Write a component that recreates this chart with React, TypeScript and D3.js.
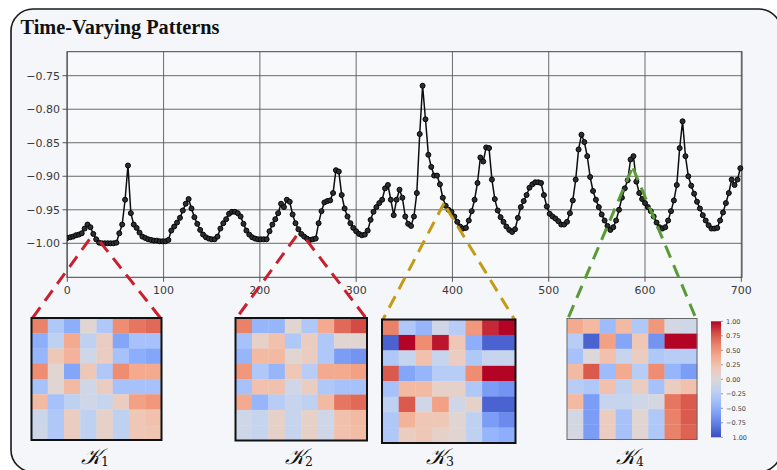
import React from "react";
import * as d3 from "d3";

// ---------------- data ----------------
const timeStep = 3; // samples read every 3 time steps, t = 0..699
const seriesValues = [
  -0.992, -0.991, -0.990, -0.988, -0.987, -0.985, -0.978, -0.972, -0.976, -0.986,
  -0.994, -0.999, -1.000, -1.000, -1.000, -1.000, -1.000, -0.999, -0.985, -0.972,
  -0.935, -0.884, -0.955, -0.972, -0.977, -0.984, -0.990, -0.992, -0.994, -0.995,
  -0.996, -0.996, -0.997, -0.997, -0.997, -0.995, -0.981, -0.975, -0.969, -0.962,
  -0.951, -0.941, -0.934, -0.948, -0.961, -0.971, -0.980, -0.987, -0.991, -0.993,
  -0.994, -0.994, -0.990, -0.978, -0.970, -0.964, -0.956, -0.953, -0.953, -0.955,
  -0.960, -0.971, -0.981, -0.987, -0.991, -0.993, -0.994, -0.994, -0.994, -0.994,
  -0.982, -0.972, -0.964, -0.955, -0.941, -0.946, -0.935, -0.938, -0.957, -0.970,
  -0.979, -0.986, -0.990, -0.993, -0.995, -0.994, -0.993, -0.970, -0.952, -0.939,
  -0.937, -0.936, -0.925, -0.891, -0.893, -0.928, -0.948, -0.960, -0.970, -0.977,
  -0.982, -0.986, -0.988, -0.987, -0.981, -0.965, -0.953, -0.946, -0.940, -0.935,
  -0.918, -0.913, -0.935, -0.958, -0.935, -0.920, -0.932, -0.960, -0.971, -0.974,
  -0.960, -0.925, -0.837, -0.765, -0.815, -0.868, -0.886, -0.899, -0.899, -0.912,
  -0.932, -0.944, -0.950, -0.953, -0.960, -0.968, -0.975, -0.978, -0.977, -0.966,
  -0.952, -0.935, -0.910, -0.872, -0.878, -0.857, -0.858, -0.905, -0.934, -0.951,
  -0.961, -0.968, -0.975, -0.980, -0.983, -0.979, -0.962, -0.946, -0.937, -0.928,
  -0.917, -0.912, -0.909, -0.909, -0.910, -0.928, -0.945, -0.956, -0.960, -0.963,
  -0.967, -0.972, -0.972, -0.968, -0.955, -0.936, -0.905, -0.860, -0.838, -0.849,
  -0.870, -0.901, -0.922, -0.935, -0.946, -0.957, -0.966, -0.974, -0.980, -0.976,
  -0.966, -0.950, -0.932, -0.918, -0.906, -0.875, -0.870, -0.908, -0.925, -0.934,
  -0.940, -0.946, -0.952, -0.960, -0.969, -0.976, -0.978, -0.976, -0.966, -0.952,
  -0.936, -0.913, -0.858, -0.818, -0.870, -0.900, -0.914, -0.926, -0.938, -0.948,
  -0.958, -0.966, -0.973, -0.978, -0.978, -0.977, -0.966, -0.954, -0.940, -0.925,
  -0.905, -0.913, -0.905, -0.888,
];

const xTicks = [0, 100, 200, 300, 400, 500, 600, 700];
const yTicks = [-0.75, -0.8, -0.85, -0.9, -0.95, -1.0];
const yTickLabels = ["\u22120.75", "\u22120.80", "\u22120.85", "\u22120.90", "\u22120.95", "\u22121.00"];

const heatK1 = [
  [0.6, -0.3, -0.5, 0.05, -0.3, 0.55, 0.65, 0.7],
  [-0.5, -0.2, 0.4, -0.2, 0.15, -0.55, -0.35, -0.35],
  [-0.45, 0.2, 0.35, -0.1, 0.15, -0.35, -0.5, -0.55],
  [0.55, 0.05, -0.55, 0.2, -0.3, 0.55, 0.4, 0.4],
  [-0.35, 0.05, 0.3, -0.1, 0.15, -0.35, -0.35, -0.35],
  [0.3, -0.35, -0.2, -0.1, -0.15, 0.15, 0.45, 0.5],
  [-0.12, -0.3, 0.15, -0.2, 0.1, -0.2, 0.2, 0.25],
  [-0.1, -0.3, 0.15, -0.2, 0.1, -0.2, 0.2, 0.22],
];
const heatK2 = [
  [0.6, -0.45, -0.45, 0.05, -0.3, 0.4, 0.7, 0.8],
  [-0.35, 0.1, 0.25, -0.3, 0.15, -0.3, 0.05, 0.05],
  [-0.45, 0.3, 0.3, 0.05, 0.15, -0.3, -0.6, -0.65],
  [0.5, -0.3, -0.45, 0.2, -0.25, 0.4, 0.4, 0.45],
  [-0.35, 0.25, 0.25, -0.1, 0.15, -0.3, -0.35, -0.35],
  [0.4, -0.45, -0.25, -0.15, -0.2, 0.3, 0.65, 0.7],
  [-0.1, -0.15, 0.1, -0.15, 0.1, -0.1, 0.25, 0.3],
  [-0.1, -0.15, 0.1, -0.15, 0.1, -0.1, 0.25, 0.28],
];
const heatK3 = [
  [0.6, -0.3, -0.45, -0.1, -0.25, 0.5, 0.9, 1.0],
  [-0.9, 1.0, 0.55, 0.95, 0.2, -0.5, -0.9, -0.9],
  [-0.3, -0.15, 0.25, -0.15, 0.15, -0.3, -0.15, -0.15],
  [0.75, -0.55, -0.45, -0.25, -0.25, 0.55, 1.0, 1.0],
  [-0.35, 0.3, 0.3, 0.1, 0.1, -0.3, -0.6, -0.65],
  [-0.2, 0.75, -0.1, 0.45, -0.1, 0.1, -0.9, -0.9],
  [-0.3, 0.35, 0.2, 0.2, 0.05, -0.2, -0.6, -0.7],
  [-0.3, 0.15, 0.2, 0.1, 0.05, -0.2, -0.45, -0.5],
];
const heatK4 = [
  [0.4, 0.3, -0.4, 0.3, -0.3, 0.5, -0.05, -0.1],
  [-0.25, -0.9, 0.45, -0.55, 0.2, -0.65, 1.0, 1.0],
  [-0.35, 0.0, 0.25, -0.15, 0.15, -0.3, -0.25, -0.25],
  [0.3, 0.75, -0.4, 0.4, -0.25, 0.55, -0.45, -0.6],
  [-0.25, -0.3, 0.25, -0.2, 0.15, -0.35, 0.15, 0.25],
  [0.3, -0.6, -0.15, -0.15, -0.1, -0.05, 0.65, 0.75],
  [-0.05, -0.6, 0.15, -0.35, 0.05, -0.3, 0.6, 0.75],
  [-0.05, -0.6, 0.15, -0.35, 0.05, -0.3, 0.6, 0.72],
];
const heatNames = ["1", "2", "3", "4"];

// zoom-line anchor points on the series (time, value) for left/right dashed lines
const zoomAnchors = [
  { lt: 23, lv: -0.994, rt: 34, rv: -0.9976, color: "#c8202f" },
  { lt: 238, lv: -0.989, rt: 248.4, rv: -0.995, color: "#c8202f" },
  { lt: 391.2, lv: -0.9403, rt: 394, rv: -0.9478, color: "#c49a16" },
  { lt: 585.9, lv: -0.8907, rt: 587.6, rv: -0.888, color: "#5a9b38" },
];

const cbTicks = [1, 0.75, 0.5, 0.25, 0, -0.25, -0.5, -0.75, -1];
const cbLabels = ["1.00", "0.75", "0.50", "0.25", "0.00", "\u22120.25", "\u22120.50", "\u22120.75", "1.00"];

// ---------------- layout ----------------
const W = 777;
const H = 470;
const plot = { left: 67, right: 742, top: 51.7, bottom: 277.3 };
const boxes = [
  { x: 31.5, y: 318, w: 130, h: 122, border: "#111", bw: 2 },
  { x: 235.5, y: 318, w: 131.5, h: 122.5, border: "#111", bw: 2 },
  { x: 382, y: 319.5, w: 133.5, h: 123.5, border: "#111", bw: 2 },
  { x: 567, y: 318.5, w: 130, h: 121, border: "#666", bw: 1 },
];
const labelX = [95, 299, 440, 630];
const cb = { x: 711, y: 321.3, w: 10, h: 116 };

const coolwarm = d3.interpolateRgbBasis([
  "rgb(59,76,192)",
  "rgb(98,130,234)",
  "rgb(141,176,254)",
  "rgb(184,208,249)",
  "rgb(221,221,221)",
  "rgb(245,196,173)",
  "rgb(244,154,123)",
  "rgb(222,96,77)",
  "rgb(180,4,38)",
]);

export default function App() {
  const x = d3.scaleLinear().domain([0, 700]).range([67.3, 741.3]);
  const y = d3.scaleLinear().domain([-1.0507, -0.7142]).range([plot.bottom, plot.top]);
  const color = d3.scaleSequential(coolwarm).domain([-1, 1]);
  const pts = seriesValues.map((v, i) => [i * timeStep, v] as [number, number]);
  const line = d3
    .line<[number, number]>()
    .x((d) => x(d[0]))
    .y((d) => y(d[1]));
  const heats = [heatK1, heatK2, heatK3, heatK4];
  const cbScale = d3.scaleLinear().domain([-1, 1]).range([cb.y + cb.h, cb.y]);
  const gradStops = d3.range(0, 1.0001, 0.1);

  return (
    <svg
      width={W}
      height={H}
      style={{ position: "absolute", left: 0, top: 0, background: "#fff" }}
      fontFamily="DejaVu Sans, sans-serif"
    >
      <defs>
        <linearGradient id="cbgrad" x1="0" y1="1" x2="0" y2="0">
          {gradStops.map((s) => (
            <stop key={s} offset={s} stopColor={color(s * 2 - 1)} />
          ))}
        </linearGradient>
        <clipPath id="plotclip">
          <rect x={plot.left} y={plot.top - 3} width={plot.right - plot.left + 3} height={plot.bottom - plot.top + 3} />
        </clipPath>
      </defs>
      {/* panel */}
      <rect x={11} y={9} width={770} height={463} rx={22} ry={22} fill="#f4f6fa" stroke="#1a1a1a" strokeWidth={1.6} />
      <text x={20.5} y={33.5} fontFamily="Liberation Serif, Times New Roman, serif" fontWeight="bold" fontSize={20.3} fill="#111">
        Time-Varying Patterns
      </text>

      {/* plot area */}
      <rect x={plot.left} y={plot.top} width={plot.right - plot.left} height={plot.bottom - plot.top} fill="#f8f9fb" />
      {xTicks.map((t) => (
        <line key={"gx" + t} x1={x(t)} x2={x(t)} y1={plot.top} y2={plot.bottom} stroke="#5a5a5a" strokeWidth={0.9} />
      ))}
      {yTicks.map((t) => (
        <line key={"gy" + t} x1={plot.left} x2={plot.right} y1={y(t)} y2={y(t)} stroke="#5a5a5a" strokeWidth={0.9} />
      ))}
      <rect
        x={plot.left}
        y={plot.top}
        width={plot.right - plot.left}
        height={plot.bottom - plot.top}
        fill="none"
        stroke="#444"
        strokeWidth={1}
      />
      {yTicks.map((t, i) => (
        <g key={"yt" + t}>
          <line x1={plot.left - 4.5} x2={plot.left} y1={y(t)} y2={y(t)} stroke="#444" strokeWidth={0.9} />
          <text x={plot.left - 7} y={y(t)} dy="0.35em" textAnchor="end" fontSize={11} fill="#3a3a3a">
            {yTickLabels[i]}
          </text>
        </g>
      ))}
      {xTicks.map((t) => (
        <g key={"xt" + t}>
          <line x1={x(t)} x2={x(t)} y1={plot.bottom} y2={plot.bottom + 4.5} stroke="#444" strokeWidth={0.9} />
          <text x={x(t)} y={plot.bottom + 17} textAnchor="middle" fontSize={11} fill="#3a3a3a">
            {t}
          </text>
        </g>
      ))}

      {/* series */}
      <g clipPath="url(#plotclip)">
        <path d={line(pts) || ""} fill="none" stroke="#0d0d0d" strokeWidth={1.5} />
        {pts.map((p, i) => (
          <circle key={i} cx={x(p[0])} cy={y(p[1])} r={2.5} fill="#2e2e2e" stroke="#050505" strokeWidth={1} />
        ))}
      </g>

      {/* zoom lines */}
      {zoomAnchors.map((a, i) => {
        const b = boxes[i];
        return (
          <g key={"z" + i} stroke={a.color} strokeWidth={3} strokeDasharray="13,8" fill="none">
            <line x1={x(a.lt)} y1={y(a.lv)} x2={b.x + 1} y2={b.y} />
            <line x1={x(a.rt)} y1={y(a.rv)} x2={b.x + b.w - 1} y2={b.y} />
          </g>
        );
      })}

      {/* heatmaps */}
      {heats.map((m, k) => {
        const b = boxes[k];
        const bx = d3.scaleBand<number>().domain(d3.range(8)).range([b.x, b.x + b.w]);
        const by = d3.scaleBand<number>().domain(d3.range(8)).range([b.y, b.y + b.h]);
        return (
          <g key={"h" + k}>
            {m.map((row, r) =>
              row.map((v, c) => (
                <rect
                  key={r + "-" + c}
                  x={bx(c)}
                  y={by(r)}
                  width={bx.bandwidth() + 0.3}
                  height={by.bandwidth() + 0.3}
                  fill={color(v)}
                />
              ))
            )}
            <rect x={b.x} y={b.y} width={b.w} height={b.h} fill="none" stroke={b.border} strokeWidth={b.bw} />
            <text x={labelX[k]} y={463.5} textAnchor="middle" fill="#111">
              <tspan fontFamily="DejaVu Serif, serif" fontStyle="italic" fontSize={22}>
                {"\u{1D4A6}"}
              </tspan>
              <tspan fontFamily="DejaVu Serif, serif" fontSize={12.5} dy={2.5}>
                {heatNames[k]}
              </tspan>
            </text>
          </g>
        );
      })}

      {/* colorbar */}
      <rect x={cb.x} y={cb.y} width={cb.w} height={cb.h} fill="url(#cbgrad)" />
      {cbTicks.map((t, i) => (
        <g key={"cb" + i}>
          <line x1={cb.x + cb.w} x2={cb.x + cb.w + 2} y1={cbScale(t)} y2={cbScale(t)} stroke="#555" strokeWidth={0.6} />
          <text
            x={cb.x + cb.w + (i === cbTicks.length - 1 ? 11.5 : 5)}
            y={cbScale(t)}
            dy="0.35em"
            fontSize={6.5}
            fill="#444"
          >
            {cbLabels[i]}
          </text>
        </g>
      ))}
    </svg>
  );
}
